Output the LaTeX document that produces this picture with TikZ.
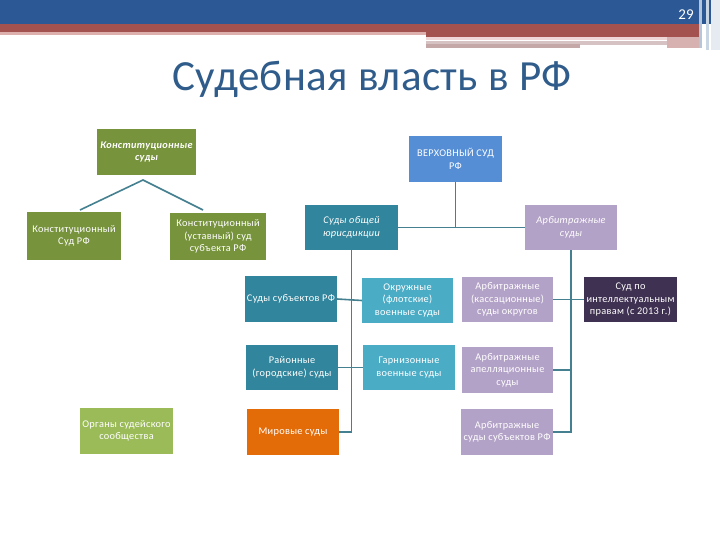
\documentclass[tikz,border=0pt]{standalone}
\usepackage{fontspec}
\setmainfont{Carlito}
\definecolor{hdrblue}{HTML}{2C5895}
\definecolor{hdrred}{HTML}{A4524F}
\definecolor{hdrpink}{HTML}{DDB0AE}
\definecolor{hdrgray}{HTML}{C4A8A8}
\definecolor{titleblue}{HTML}{2F5C8A}
\definecolor{olive}{HTML}{77933C}
\definecolor{lgreen}{HTML}{9BBB59}
\definecolor{vsblue}{HTML}{558ED5}
\definecolor{teal}{HTML}{31859C}
\definecolor{lteal}{HTML}{4BACC6}
\definecolor{lav}{HTML}{B3A2C7}
\definecolor{dpurple}{HTML}{3F3151}
\definecolor{orng}{HTML}{E36C09}
\definecolor{conn}{HTML}{44808F}
\newcommand{\boxfont}{\fontsize{10.3}{12.5}\selectfont\addfontfeatures{LetterSpace=3}}
\tikzset{
  box/.style={draw=none, text=white, align=center, inner sep=0pt,
    font=\boxfont},
  link/.style={draw=conn, line width=1.6pt},
}
\begin{document}
\begin{tikzpicture}[x=1pt,y=-1pt]
\useasboundingbox (0,0) rectangle (720,540);
% header
\fill[hdrblue] (0,0) rectangle (720,24);
\fill[hdrred] (0,24) rectangle (700,32);
\fill[hdrpink] (0,32) rectangle (426,35);
\fill[hdrred] (426,32) rectangle (700,37);
\fill[hdrpink!50] (426,37) rectangle (667,40);
\fill[hdrgray!70] (426,41) rectangle (667,45);
\fill[hdrgray] (426,44) rectangle (580,48);
\fill[hdrred!45] (667,37) rectangle (700,48);
\fill[hdrblue!35] (699,0) rectangle (702,48);
\fill[hdrblue!25] (706,0) rectangle (709,50);
\fill[hdrblue!12] (711,0) rectangle (720,50);
\node[text=white, font=\fontsize{15}{15}\selectfont] (pnum) at (686,15) {29};
% title
\node[text=titleblue, font=\fontsize{43}{45}\selectfont\addfontfeatures{LetterSpace=1}] (title) at (372,79) {Судебная власть в РФ};
% boxes
\node[box, fill=olive, minimum width=99pt, minimum height=46pt, font=\boxfont\bfseries\itshape] (b1) at (146.5,152) {Конституционные\\суды};
\node[box, fill=olive, minimum width=94pt, minimum height=48pt] (b2) at (74,236) {Конституционный\\Суд РФ};
\node[box, fill=olive, minimum width=96pt, minimum height=47pt] (b3) at (218,236.5) {Конституционный\\(уставный) суд\\субъекта РФ};
\node[box, fill=vsblue, minimum width=93pt, minimum height=46pt] (b4) at (455.5,159) {ВЕРХОВНЫЙ СУД\\РФ};
\node[box, fill=teal, minimum width=93pt, minimum height=45pt, font=\boxfont\itshape] (b5) at (351.5,227.5) {Суды общей\\юрисдикции};
\node[box, fill=lav, minimum width=92pt, minimum height=45pt, font=\boxfont\itshape] (b6) at (571,227.5) {Арбитражные\\суды};
\node[box, fill=teal, minimum width=92pt, minimum height=46pt] (b7) at (291,299) {Суды субъектов РФ};
\node[box, fill=lteal, minimum width=91pt, minimum height=45pt] (b8) at (407.5,300.5) {Окружные\\(флотские)\\военные суды};
\node[box, fill=lav, minimum width=91pt, minimum height=45pt] (b9) at (507.5,299.5) {Арбитражные\\(кассационные)\\суды округов};
\node[box, fill=dpurple, minimum width=93pt, minimum height=45pt] (b10) at (630.5,299.5) {Суд по\\интеллектуальным\\правам (с 2013 г.)};
\node[box, fill=teal, minimum width=92pt, minimum height=45pt] (b11) at (292,367.5) {Районные\\(городские) суды};
\node[box, fill=lteal, minimum width=92pt, minimum height=45pt] (b12) at (409,367.5) {Гарнизонные\\военные суды};
\node[box, fill=lav, minimum width=91pt, minimum height=46pt] (b13) at (507.5,370) {Арбитражные\\апелляционные\\суды};
\node[box, fill=lgreen, minimum width=93pt, minimum height=46pt] (b14) at (126.5,431) {Органы судейского\\сообщества};
\node[box, fill=orng, minimum width=92pt, minimum height=46pt] (b15) at (293,432) {Мировые суды};
\node[box, fill=lav, minimum width=92pt, minimum height=46pt] (b16) at (507,432) {Арбитражные\\суды субъектов РФ};
% connectors: constitutional
\coordinate (apex) at (143,180);
\coordinate (cl) at (80,210);
\coordinate (cr) at (203,210);
\draw[link] (cl) -- (apex) -- (cr);
% supreme court
\draw[link] (b4.south) -- (b4.south |- b5.east);
\draw[link] (b5.east) -- (b6.west);
% general jurisdiction
\coordinate (gjend) at (b5.south |- b15.east);
\draw[link] (b5.south) -- (gjend) -- (b15.east);
\draw[link] (b7.east) -- (b8.west);
\draw[link] (b11.east) -- (b12.west);
% arbitration
\coordinate (arend) at (b6.south |- b16.east);
\draw[link] (b6.south) -- (arend) -- (b16.east);
\draw[link] (b9.east) -- (b10.west);
\draw[link] (b13.east) -- (b13.east -| b6.south);
\end{tikzpicture}
\end{document}
